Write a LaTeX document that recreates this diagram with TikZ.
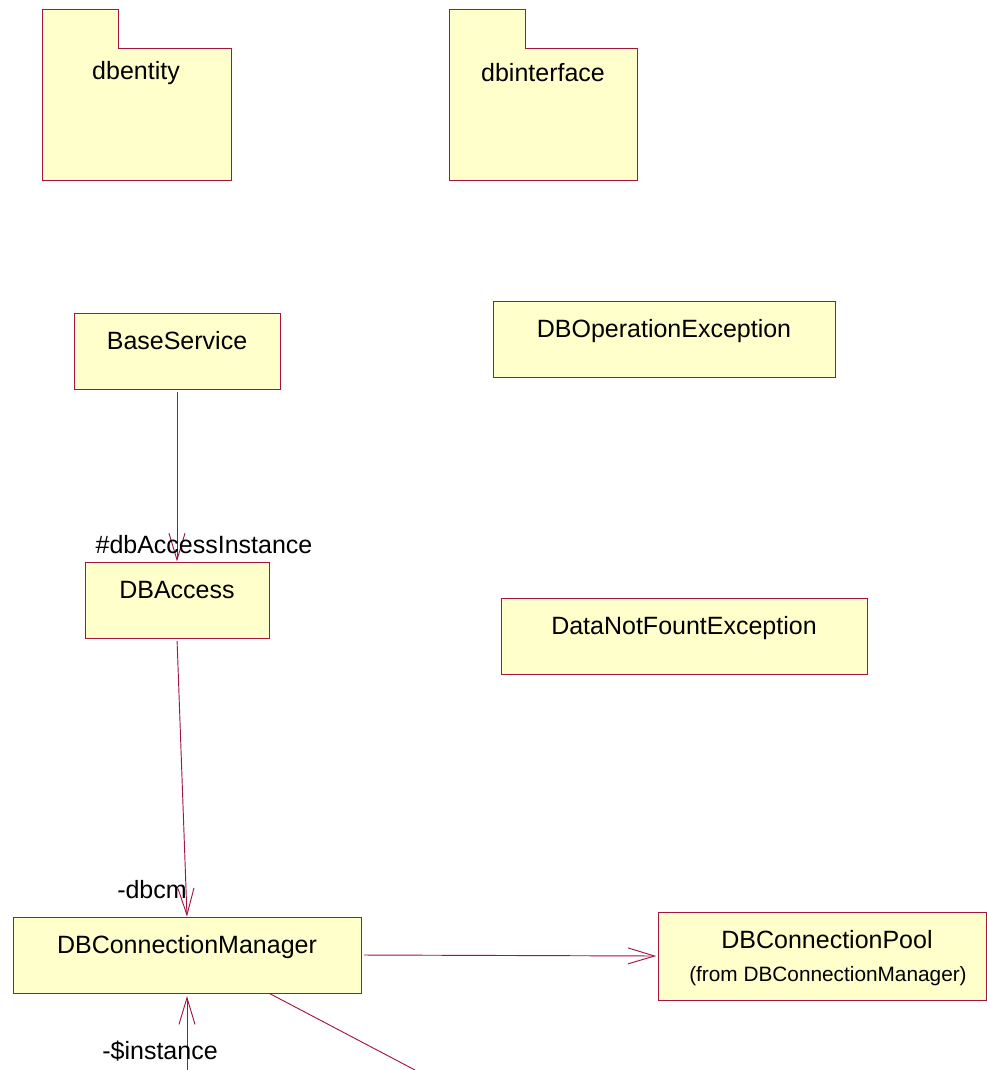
\documentclass[tikz,border=0pt]{standalone}
\usepackage{fontspec}
\setmainfont{Liberation Sans}
\usetikzlibrary{arrows.meta}
\definecolor{umlfill}{HTML}{FFFFCC}
\definecolor{umlline}{HTML}{A3143F}
\begin{document}
\begin{tikzpicture}[x=0.75pt,y=-0.75pt,
  every node/.style={font=\fontsize{18.75}{22}\selectfont},
  cls/.style={draw=umlline,fill=umlfill,line width=0.7pt,inner sep=0pt,
    text height=27pt,text depth=30pt},
  pkg/.style={draw=umlline,fill=umlfill,line width=0.7pt},
  assoc/.style={draw=umlline,line width=0.7pt},
  nav/.style={assoc,-{Straight Barb[length=20pt,width=12pt,line width=0.7pt]}},
  role/.style={inner sep=0pt}]
\useasboundingbox (0,0) rectangle (987,1070);

% packages
\draw[pkg] (42,9) -- (118,9) -- (118,48) -- (231,48) -- (231,180) -- (42,180) -- cycle;
\node (dbentity) at (136,73) {dbentity};
\draw[pkg] (449,9) -- (525,9) -- (525,48) -- (637,48) -- (637,180) -- (449,180) -- cycle;
\node (dbinterface) at (543,73) {dbinterface};

% classes
\node[cls,minimum width=154.5pt] (base) at (177,351) {BaseService};
\node[cls,minimum width=256.5pt] (dbop) at (664,339) {DBOperationException};
\node[cls,minimum width=138pt] (acc) at (177,600) {DBAccess};
\node[cls,minimum width=274.5pt] (dnf) at (684,636) {DataNotFountException};
\node[cls,minimum width=261pt] (mgr) at (187,955) {DBConnectionManager};
\node[draw=umlline,fill=umlfill,line width=0.7pt,minimum width=246pt,minimum height=66pt,inner sep=0pt] (pool) at (822,956) {};
\node (poolname) at (827,940) {DBConnectionPool};
\node[font=\fontsize{15.6}{18}\selectfont] (poolfrom) at (828,976) {(from DBConnectionManager)};

% associations
\draw[nav,shorten <=2pt] (base.south) -- (acc.north);
\node[role] (r1) at (204,545) {\#dbAccessInstance};
\draw[nav,shorten <=2pt] (acc.south) -- (mgr.north);
\node[role] (r2) at (152,890) {-dbcm};
\draw[nav,shorten <=2pt,shorten >=1pt] (mgr.east) -- (pool.west);
\coordinate (selfend) at (187,1070);
\draw[nav,shorten >=2pt] (selfend) -- (mgr.south);
\node[role] (r3) at (160,1051) {-\$instance};
\coordinate (diagend) at (415,1070);
\draw[assoc] (mgr.-25) -- (diagend);
\end{tikzpicture}
\end{document}
